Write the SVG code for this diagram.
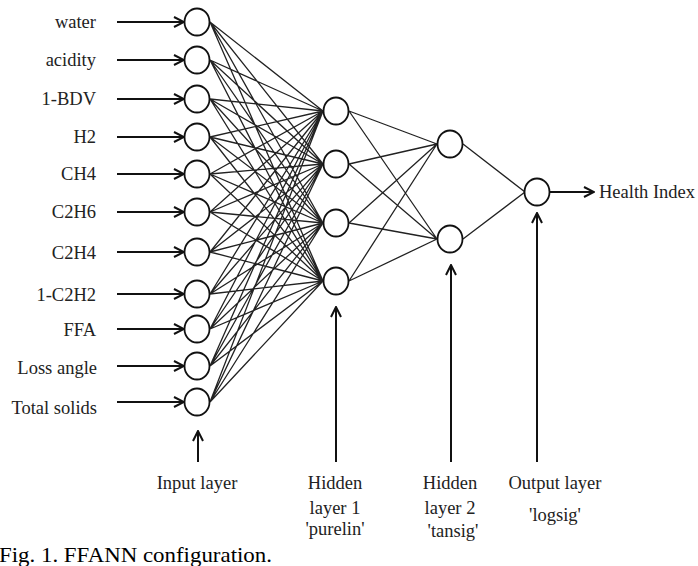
<svg xmlns="http://www.w3.org/2000/svg" width="698" height="566" viewBox="0 0 698 566">
<style>
text{font-family:"Liberation Serif",serif}
.t{font-size:18.5px;fill:#222}
.n{fill:#fff;stroke:#111;stroke-width:1.8}
.c{stroke:#222;stroke-width:1.3;fill:none}
.a{stroke:#111;stroke-width:2;fill:none;marker-end:url(#ah)}
</style>
<defs>
<marker id="ah" markerWidth="12" markerHeight="12" viewBox="0 0 12 12" refX="11" refY="6" orient="auto" markerUnits="userSpaceOnUse">
<path d="M1,1 L11,6 L1,11" fill="none" stroke="#111" stroke-width="2"/>
</marker>
</defs>
<rect width="698" height="566" fill="#fff"/>
<g id="connectors">
<g class="c">
<path d="M210,22L323,111M210,22L323,164M210,22L323,223M210,22L323,281M210,60L323,111M210,60L323,164M210,60L323,223M210,60L323,281M210,99L323,111M210,99L323,164M210,99L323,223M210,99L323,281M210,137L323,111M210,137L323,164M210,137L323,223M210,137L323,281M210,174L323,111M210,174L323,164M210,174L323,223M210,174L323,281M210,212L323,111M210,212L323,164M210,212L323,223M210,212L323,281M210,252L323,111M210,252L323,164M210,252L323,223M210,252L323,281M210,294L323,111M210,294L323,164M210,294L323,223M210,294L323,281M210,329L323,111M210,329L323,164M210,329L323,223M210,329L323,281M210,366L323,111M210,366L323,164M210,366L323,223M210,366L323,281M210,402L323,111M210,402L323,164M210,402L323,223M210,402L323,281M349,111L437,144M349,111L437,239M349,164L437,144M349,164L437,239M349,223L437,144M349,223L437,239M349,281L437,144M349,281L437,239M463,144L525,192M463,239L525,192"/>
</g>
<g class="a">
<line x1="117" y1="22" x2="184" y2="22"/>
<line x1="117" y1="60" x2="184" y2="60"/>
<line x1="117" y1="99" x2="184" y2="99"/>
<line x1="117" y1="137" x2="184" y2="137"/>
<line x1="117" y1="174" x2="184" y2="174"/>
<line x1="117" y1="212" x2="184" y2="212"/>
<line x1="117" y1="252" x2="184" y2="252"/>
<line x1="117" y1="294" x2="184" y2="294"/>
<line x1="117" y1="329" x2="184" y2="329"/>
<line x1="117" y1="366" x2="184" y2="366"/>
<line x1="117" y1="402" x2="184" y2="402"/>
<line x1="549" y1="192" x2="594" y2="192"/>
<line x1="198" y1="462" x2="198" y2="431"/>
<line x1="336" y1="462" x2="336" y2="307"/>
<line x1="451" y1="462" x2="451" y2="265"/>
<line x1="537" y1="462" x2="537" y2="213"/>
</g>
</g>
<g id="input-nodes">
<g id="in-water"><ellipse class="n" cx="197" cy="22" rx="12.5" ry="13.5"/><text class="t" x="96" y="28" text-anchor="end">water</text></g>
<g id="in-acidity"><ellipse class="n" cx="197" cy="60" rx="12.5" ry="13.5"/><text class="t" x="96" y="66" text-anchor="end">acidity</text></g>
<g id="in-1bdv"><ellipse class="n" cx="197" cy="99" rx="12.5" ry="13.5"/><text class="t" x="96" y="105" text-anchor="end">1-BDV</text></g>
<g id="in-h2"><ellipse class="n" cx="197" cy="137" rx="12.5" ry="13.5"/><text class="t" x="96" y="143" text-anchor="end">H2</text></g>
<g id="in-ch4"><ellipse class="n" cx="197" cy="174" rx="12.5" ry="13.5"/><text class="t" x="96" y="180" text-anchor="end">CH4</text></g>
<g id="in-c2h6"><ellipse class="n" cx="197" cy="212" rx="12.5" ry="13.5"/><text class="t" x="96" y="218" text-anchor="end">C2H6</text></g>
<g id="in-c2h4"><ellipse class="n" cx="197" cy="252" rx="12.5" ry="13.5"/><text class="t" x="96" y="259" text-anchor="end">C2H4</text></g>
<g id="in-1c2h2"><ellipse class="n" cx="197" cy="294" rx="12.5" ry="13.5"/><text class="t" x="96" y="301" text-anchor="end">1-C2H2</text></g>
<g id="in-ffa"><ellipse class="n" cx="197" cy="329" rx="12.5" ry="13.5"/><text class="t" x="96" y="336" text-anchor="end">FFA</text></g>
<g id="in-loss"><ellipse class="n" cx="197" cy="366" rx="12.5" ry="13.5"/><text class="t" x="97" y="374" text-anchor="end">Loss angle</text></g>
<g id="in-solids"><ellipse class="n" cx="197" cy="402" rx="12.5" ry="13.5"/><text class="t" x="97" y="414" text-anchor="end">Total solids</text></g>
</g>
<g id="hidden1">
<g id="h1-1"><ellipse class="n" cx="336" cy="111" rx="12.5" ry="13.5"/></g>
<g id="h1-2"><ellipse class="n" cx="336" cy="164" rx="12.5" ry="13.5"/></g>
<g id="h1-3"><ellipse class="n" cx="336" cy="223" rx="12.5" ry="13.5"/></g>
<g id="h1-4"><ellipse class="n" cx="336" cy="281" rx="12.5" ry="13.5"/></g>
</g>
<g id="hidden2">
<g id="h2-1"><ellipse class="n" cx="450" cy="144" rx="12.5" ry="13.5"/></g>
<g id="h2-2"><ellipse class="n" cx="450" cy="239" rx="12.5" ry="13.5"/></g>
</g>
<g id="output"><ellipse class="n" cx="537" cy="192" rx="12.5" ry="13.5"/><text class="t" x="599" y="198">Health Index</text></g>
<g id="labels">
<text class="t" x="197" y="489" text-anchor="middle">Input layer</text>
<text class="t" x="335" y="489" text-anchor="middle">Hidden</text>
<text class="t" x="335" y="514" text-anchor="middle">layer 1</text>
<text class="t" x="335" y="535" text-anchor="middle">'purelin'</text>
<text class="t" x="450" y="489" text-anchor="middle">Hidden</text>
<text class="t" x="450" y="514" text-anchor="middle">layer 2</text>
<text class="t" x="453" y="537" text-anchor="middle">'tansig'</text>
<text class="t" x="555" y="489" text-anchor="middle">Output layer</text>
<text class="t" x="555" y="521" text-anchor="middle">'logsig'</text>
<text x="-1" y="562" font-size="21" fill="#000" textLength="273" lengthAdjust="spacingAndGlyphs">Fig. 1.  FFANN configuration.</text>
</g>
</svg>
